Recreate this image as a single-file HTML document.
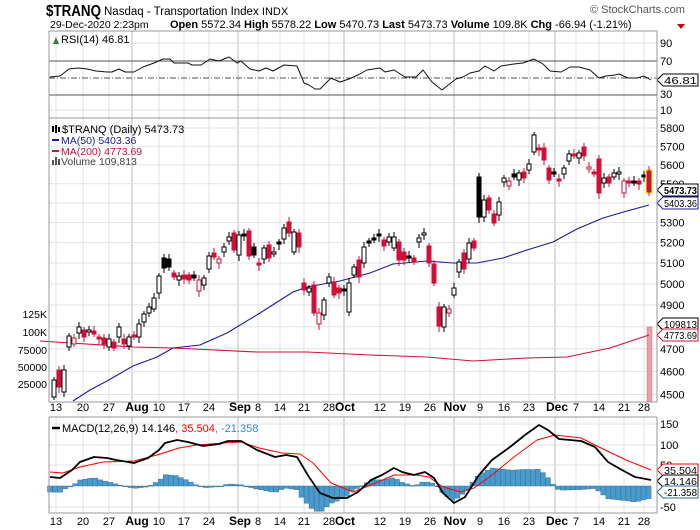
<!DOCTYPE html>
<html><head><meta charset="utf-8"><style>
body{margin:0;background:#fff;width:700px;height:530px;overflow:hidden}
svg{display:block;font-family:"Liberation Sans",sans-serif}
</style></head><body>
<svg id="s" width="700" height="530" xmlns="http://www.w3.org/2000/svg">
<text x="46" y="16" font-size="16" font-weight="bold" textLength="55" lengthAdjust="spacingAndGlyphs">$TRANQ</text>
<text x="104" y="15" font-size="11.5">Nasdaq - Transportation Index <tspan font-size="11">INDX</tspan></text>
<text x="590" y="13" font-size="11" fill="#555">© StockCharts.com</text>
<text x="50" y="28" font-size="10.5">29-Dec-2020 2:23pm</text>
<text x="170" y="28" font-size="11"><tspan font-weight="bold">Open</tspan> 5572.34 <tspan font-weight="bold">High</tspan> 5578.22 <tspan font-weight="bold">Low</tspan> 5470.73 <tspan font-weight="bold">Last</tspan> 5473.73 <tspan font-weight="bold">Volume</tspan> 109.8K <tspan font-weight="bold">Chg</tspan> -66.94 (-1.21%)</text>
<polygon points="677,24 685,24 681,29" fill="#c00"/>
<g id="g"></g>
</svg>
<script>
const S=document.getElementById('g');let h='';
const L=49,R=657;
function ln(x1,y1,x2,y2,c,w,d){h+=`<line x1="${x1}" y1="${y1}" x2="${x2}" y2="${y2}" stroke="${c}" stroke-width="${w||1}" ${d?`stroke-dasharray="${d}"`:''}/>`}
function tx(x,y,t,o){h+=`<text x="${x}" y="${y}" font-size="${(o&&o.fs)||11}" fill="${(o&&o.c)||'#000'}" ${(o&&o.a)?`text-anchor="${o.a}"`:''} ${(o&&o.b)?'font-weight="bold"':''}>${t}</text>`}
function pl(p,c,w){h+=`<polyline points="${p.map(q=>q.join(',')).join(' ')}" fill="none" stroke="${c}" stroke-width="${w}" stroke-linejoin="round"/>`}
const wk=[[56,'13'],[83,'20'],[109,'27'],[132,'Aug',137],[159,'10'],[184,'17'],[209,'24'],[238,'Sep',240],[258,'8'],[280,'14'],[304,'21'],[329,'28'],[344,'Oct',345],[380,'12'],[405,'19'],[430,'26'],[454,'Nov',455],[480,'9'],[504,'16'],[529,'23'],[555,'Dec',557],[576,'7'],[599,'14'],[624,'21'],[644,'28']];
const panels=[[31,118],[118,402],[417,513]];
panels.forEach(([t,b])=>{wk.forEach(w=>ln(w[0],t,w[0],b,w[2]?'#bbb':'#e3e3e3',1));});
// RSI
[[43,'90'],[110,'10']].forEach(a=>ln(L,a[0],R,a[0],'#e3e3e3'));
ln(L,61,R,61,'#555');ln(L,95,R,95,'#555');ln(L,78,R,78,'#555',1,'6,2,1,2');
[[47,'90'],[65,'70'],[98,'30'],[114,'10']].forEach(a=>tx(660,a[0],a[1]));
const rsi=[[50,77],[60,76],[69,69],[78,68],[87,69],[96,71],[107,72],[112,72],[119,69],[125,72],[134,72],[143,67],[154,63],[163,59],[170,59],[174,63],[188,63],[192,65],[201,65],[210,59],[219,61],[229,57],[237,63],[241,61],[250,69],[259,71],[266,68],[273,71],[284,65],[297,66],[304,83],[309,85],[315,89],[320,89],[331,78],[340,82],[349,79],[358,75],[367,70],[380,68],[385,72],[394,70],[405,77],[416,77],[423,70],[432,82],[442,90],[447,86],[456,79],[463,77],[470,73],[479,71],[485,66],[494,71],[501,66],[514,64],[523,63],[534,59],[543,64],[550,71],[561,72],[570,67],[579,67],[590,70],[599,78],[606,76],[615,75],[619,74],[628,78],[637,78],[644,76],[651,80]];
pl(rsi,'#111',1);
h+=`<polygon points="53,44 56,37 59,44" fill="#3a7a3a"/>`;
tx(61,43,'RSI(14) 46.81',{fs:11});
function box(y,t,c,b){h+=`<path d="M657,${y} L663,${y-6} L698,${y-6} L698,${y+6} L663,${y+6} Z" fill="#fff" stroke="${c}"/>`;h+=`<text x="664" y="${y+4}" font-size="10.5" ${b?'font-weight="bold"':''} textLength="33" lengthAdjust="spacingAndGlyphs">${t}</text>`;}
// price
const py=p=>128+1050*Math.log(5800/p);
for(let p=4500;p<=5800;p+=100){ln(L,py(p),R,py(p),'#e3e3e3');tx(660,py(p)+4,p);}
[[318,'125K'],[336,'100K'],[354,'75000'],[371,'50000'],[388,'25000']].forEach(a=>tx(47,a[0],a[1],{a:'end',fs:10.5}));
h+=`<rect x="647" y="327" width="5" height="75" fill="#e8a0a8" stroke="#d07080" stroke-width=".5"/>`;
pl([[40,341],[133,347],[173,348],[257,352],[307,352],[370,355],[427,357],[473,361],[527,358],[567,357],[610,348],[649,335]],'#d0103a',1.1);
pl([[73,401],[90,390],[107,381],[133,366],[157,357],[173,348],[200,345],[227,333],[260,313],[293,292],[307,287],[340,281],[370,273],[393,264],[427,261],[453,263],[477,263],[503,258],[527,250],[553,242],[577,229],[603,218],[627,211],[649,205]],'#1c1c9c',1.1);
const C=[[380,397,'h'],[370,387,'r'],[370,392,'h'],[336,347,'h'],[338,344,'q'],[327,333,'h'],[330,337,'r'],[330,332,'h'],[331,334,'r'],[337,339,'r'],[338,344,'r'],[339,347,'h'],[342,348,'r'],[327,337,'h'],[339,344,'r'],[337,346,'h'],[335,337,'r'],[324,337,'h'],[314,322,'h'],[307,313,'h'],[298,309,'h'],[276,293,'h'],[258,268,'b'],[259,267,'b'],[273,277,'r'],[276,280,'h'],[275,279,'r'],[275,280,'r'],[275,278,'b'],[280,291,'q'],[278,285,'h'],[256,269,'h'],[253,257,'r'],[259,263,'q'],[247,252,'h'],[237,241,'h'],[233,250,'r'],[235,255,'h'],[234,236,'b'],[231,256,'r'],[247,255,'b'],[263,265,'r'],[248,259,'h'],[245,258,'r'],[252,254,'h'],[242,244,'b'],[228,239,'h'],[222,233,'r'],[232,252,'h'],[233,247,'r'],[283,290,'r'],[288,292,'h'],[285,313,'r'],[313,324,'q'],[300,315,'h'],[277,283,'h'],[282,295,'r'],[288,293,'r'],[289,291,'b'],[283,312,'h'],[267,275,'h'],[260,277,'r'],[247,263,'h'],[241,243,'b'],[238,240,'b'],[234,236,'b'],[240,246,'r'],[237,242,'h'],[237,248,'h'],[242,260,'r'],[252,260,'r'],[256,258,'b'],[258,262,'r'],[238,242,'h'],[233,235,'h'],[246,263,'r'],[264,283,'r'],[307,326,'r'],[307,327,'h'],[309,313,'q'],[288,295,'h'],[262,272,'h'],[253,269,'r'],[243,259,'h'],[241,248,'r'],[177,217,'b'],[200,217,'h'],[198,210,'r'],[214,223,'r'],[202,215,'h'],[178,182,'h'],[181,186,'q'],[174,177,'b'],[173,180,'h'],[172,178,'r'],[164,170,'h'],[135,152,'h'],[148,150,'r'],[148,160,'r'],[168,180,'r'],[172,174,'b'],[179,181,'r'],[168,174,'h'],[154,161,'h'],[154,156,'r'],[153,158,'h'],[147,156,'r'],[167,169,'q'],[172,174,'r'],[159,193,'r'],[178,183,'h'],[177,183,'r'],[173,177,'h'],[172,174,'h'],[181,193,'q'],[181,183,'r'],[181,183,'b'],[181,184,'r'],[175,177,'b'],[171,192,'r']];
const N=C.length;
C.forEach((c,i)=>{const x=54+i*(595/(N-1));const col=(c[2]=='r'||c[2]=='q')?'#d0103a':'#000';
 const hi=c[0]-3-(i%3),lo=c[1]+3+((i*7)%4);
 if(i==N-1)h+=`<rect x="${x-3.5}" y="${c[0]-2}" width="7" height="${c[1]-c[0]+4}" fill="#ff0"/>`;
 ln(x,hi,x,lo,col,1);
 const fill=(c[2]=='h'||c[2]=='q')?'#fff':col;
 h+=`<rect x="${x-2}" y="${c[0]}" width="4" height="${Math.max(1,c[1]-c[0])}" fill="${fill}" stroke="${col}" stroke-width="1"/>`;});
h+=`<rect x="52" y="126" width="2" height="6" fill="#000"/><rect x="55" y="125" width="2" height="8" fill="#000"/><rect x="58" y="127" width="2" height="5" fill="#000"/>`;
tx(62,133,'$TRANQ (Daily) 5473.73',{fs:11});
ln(52,140,59,140,'#1c1c9c',2);tx(61,144,'MA(50) 5403.36',{fs:10.5,c:'#1c1c9c'});
ln(52,151,59,151,'#d0103a',2);tx(61,155,'MA(200) 4773.69',{fs:10.5,c:'#d0103a'});
h+=`<rect x="52" y="160" width="2" height="5" fill="#555"/><rect x="55" y="157" width="2" height="8" fill="#555"/><rect x="58" y="159" width="2" height="6" fill="#555"/>`;
tx(61,165,'Volume 109,813',{fs:10.5,c:'#444'});
box(80,'46.81','#000');
box(190,'5473.73','#000',1);box(203,'5403.36','#1c1c9c');box(324,'109813','#000');box(335,'4773.69','#d0103a');
// MACD
[[424,'150'],[445,'100'],[465,'50'],[507,'-50']].forEach(a=>{ln(L,a[0],R,a[0],'#e3e3e3');tx(660,a[0]+4,a[1]);});
const mk=[[50,477],[60,478],[72,470],[80,462],[94,457],[107,458],[116,460],[134,463],[148,458],[159,450],[165,443],[177,440],[188,442],[203,446],[219,444],[228,441],[241,441],[257,450],[275,457],[286,455],[297,457],[309,477],[320,493],[333,498],[347,498],[358,492],[371,480],[382,475],[394,468],[402,472],[414,475],[425,472],[434,478],[443,493],[454,503],[465,497],[479,475],[492,460],[510,447],[525,435],[539,425],[548,430],[559,439],[581,441],[595,447],[608,462],[622,470],[635,477],[651,480]];
const sg=[[50,472],[63,473],[80,467],[103,462],[134,461],[157,455],[179,448],[197,445],[224,443],[241,442],[259,448],[282,453],[300,454],[313,463],[331,483],[353,492],[371,485],[394,475],[416,475],[429,477],[443,487],[461,492],[474,488],[492,475],[514,457],[537,440],[555,435],[581,438],[599,447],[626,460],[651,470]];
function it(a,x){for(let i=1;i<a.length;i++)if(x<=a[i][0]){const p=a[i-1],q=a[i];return p[1]+(q[1]-p[1])*(x-p[0])/(q[0]-p[0]);}return a[a.length-1][1];}
for(let x=50;x<653;x+=5.03){const d=(it(sg,x)-it(mk,x))*1.2;const y=486-d;
 h+=`<rect x="${x-2.5}" y="${Math.min(y,486)}" width="5" height="${Math.max(0.8,Math.abs(d))}" fill="#4a9acb" stroke="#2a6a90" stroke-width=".4"/>`;}
pl(sg,'#f00',1);pl(mk,'#000',1.8);
ln(52,428,60,428,'#000',2.5);
h+=`<text x="62" y="432" font-size="11">MACD(12,26,9) 14.146<tspan fill="#f00">, 35.504</tspan><tspan fill="#3a8ac0">, -21.358</tspan></text>`;
box(470,'35.504','#f00');box(481,'14.146','#000');box(492,'-21.358','#2a6a90');
panels.forEach(([t,b])=>{h+=`<rect x="${L}" y="${t}" width="${R-L}" height="${b-t}" fill="none" stroke="#999"/>`;});
[411,525].forEach(y=>wk.forEach(w=>{if(w[2])tx(w[2],y,w[1],{a:'middle',b:1,fs:12});else tx(w[0],y,w[1],{a:'middle',fs:11});}));
S.innerHTML=h;
</script>
</body></html>
